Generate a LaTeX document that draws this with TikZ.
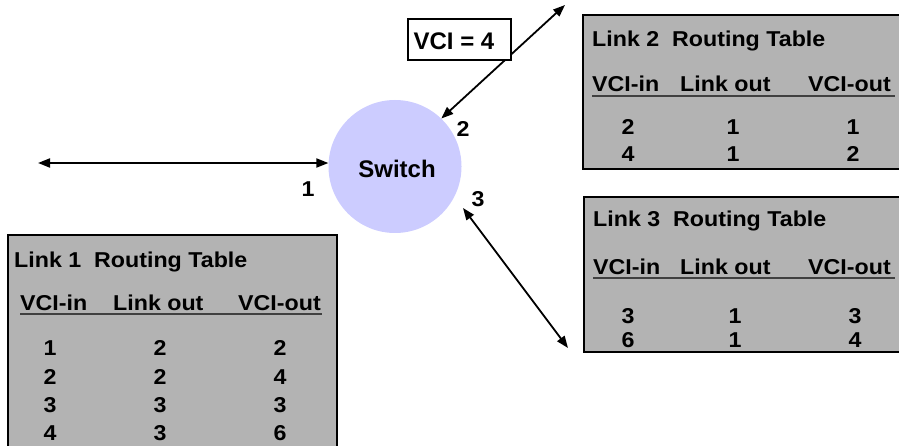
\documentclass[tikz,border=0pt]{standalone}
\usepackage{fontspec}
\setmainfont{Liberation Sans}
\newfontfamily\widesans[FakeStretch=1.08]{Liberation Sans}
\usetikzlibrary{arrows.meta}
\definecolor{tablegray}{RGB}{179,179,179}
\definecolor{switchfill}{RGB}{204,204,255}
\begin{document}
\begin{tikzpicture}[x=1pt,y=-1pt,
  tbox/.style={draw=black,line width=2pt,fill=tablegray},
  ttext/.style={font=\widesans\fontsize{21.5}{25}\selectfont\bfseries,inner sep=0pt},
  tnum/.style={ttext,anchor=base},
  thead/.style={ttext,anchor=base west},
  uline/.style={line width=1.8pt,draw=black!75},
  link/.style={line width=1.8pt,{Triangle[length=12pt,width=9pt]}-{Triangle[length=12pt,width=9pt]}},
  lbl/.style={ttext,anchor=base}]
\useasboundingbox (0,0) rectangle (899,446);
\clip (0,0) rectangle (899,446);

% Switch
\node[circle,fill=switchfill,minimum size=133pt,inner sep=0pt] (sw) at (395,166.5) {};
\node[anchor=base,inner sep=0pt,font=\fontsize{24}{28}\selectfont\bfseries] (swt) at (397,178) {Switch};

% Links
\coordinate (l1end) at (38,163);
\coordinate (l2end) at (565,5);
\coordinate (l3a) at (463,208);
\coordinate (l3end) at (568,348);
\draw[link] (l1end) -- (sw.177);
\draw[link] (l2end) -- (sw.46);
\draw[link] (l3a) -- (l3end);
\node[lbl] (lab1) at (308,197) {1};
\node[lbl] (lab2) at (463,137) {2};
\node[lbl] (lab3) at (478,207) {3};

% VCI box
\node[draw=black,line width=1.5pt,fill=white,minimum width=103pt,minimum height=41pt,inner sep=0pt] (vci) at (459.5,39.5) {};
\node[anchor=base,inner sep=0pt,font=\fontsize{24}{28}\selectfont\bfseries] (vcit) at (454,50) {VCI = 4};

% Table 1
\path[tbox] (8,235) rectangle (337,470);
\node[thead] (t1title) at (14,268) {Link 1 \ Routing Table};
\node[thead] (t1h1) at (20,310) {VCI-in};
\node[thead] (t1h2) at (113,310) {Link out};
\node[thead] (t1h3) at (238,310) {VCI-out};
\draw[uline] (20,314) -- (322,314);
\node[tnum] (a11) at (50,355) {1}; \node[tnum] (a12) at (160,355) {2}; \node[tnum] (a13) at (280,355) {2};
\node[tnum] (a21) at (50,384) {2}; \node[tnum] (a22) at (160,384) {2}; \node[tnum] (a23) at (280,384) {4};
\node[tnum] (a31) at (50,412) {3}; \node[tnum] (a32) at (160,412) {3}; \node[tnum] (a33) at (280,412) {3};
\node[tnum] (a41) at (50,440) {4}; \node[tnum] (a42) at (160,440) {3}; \node[tnum] (a43) at (280,440) {6};

% Table 2
\path[tbox] (583,15) rectangle (912,169);
\node[thead] (t2title) at (592,47) {Link 2 \ Routing Table};
\node[thead] (t2h1) at (592,92) {VCI-in};
\node[thead] (t2h2) at (680,92) {Link out};
\node[thead] (t2h3) at (808,92) {VCI-out};
\draw[uline] (592,96) -- (895,96);
\node[tnum] (b11) at (628,135) {2}; \node[tnum] (b12) at (733,135) {1}; \node[tnum] (b13) at (853,135) {1};
\node[tnum] (b21) at (628,162) {4}; \node[tnum] (b22) at (733,162) {1}; \node[tnum] (b23) at (853,162) {2};

% Table 3
\path[tbox] (584,197) rectangle (912,352);
\node[thead] (t3title) at (593,227) {Link 3 \ Routing Table};
\node[thead] (t3h1) at (593,274) {VCI-in};
\node[thead] (t3h2) at (680,274) {Link out};
\node[thead] (t3h3) at (808,274) {VCI-out};
\draw[uline] (593,278) -- (895,278);
\node[tnum] (c11) at (628,323) {3}; \node[tnum] (c12) at (735,323) {1}; \node[tnum] (c13) at (855,323) {3};
\node[tnum] (c21) at (628,347) {6}; \node[tnum] (c22) at (735,347) {1}; \node[tnum] (c23) at (855,347) {4};
\end{tikzpicture}
\end{document}
